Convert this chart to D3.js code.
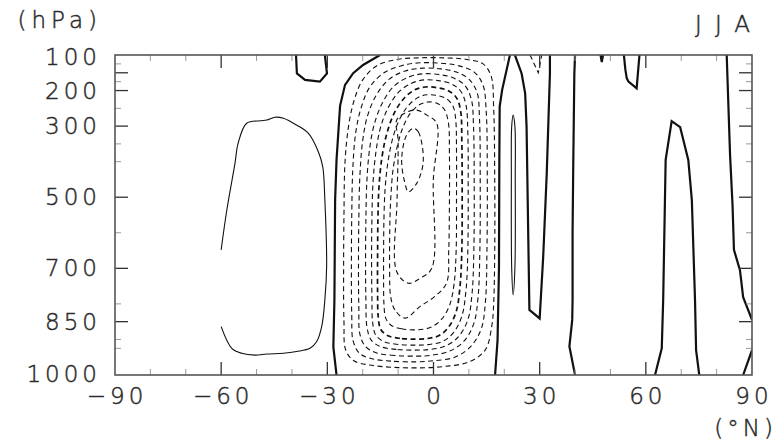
<!DOCTYPE html>
<html>
<head>
<meta charset="UTF-8">
<script src="https://d3js.org/d3.v7.min.js"></script>
<style>
  body { margin: 0; background: #fff; }
  text { font-family: "DejaVu Sans", sans-serif; font-weight: 200; fill: #2a2a2a; stroke: #2a2a2a; stroke-width: 0.45px; }
</style>
</head>
<body>
<div id="chart"></div>
<script>
// axis values
const latLabels = [-90, -60, -30, 0, 30, 60, 90];
const latMajor = [-60, -30, 0, 30, 60];
const latMinor = [-80, -70, -50, -40, -20, -10, 10, 20, 40, 50, 70, 80];
const pLabels = [100, 200, 300, 500, 700, 850, 1000];
const pMajor = [150, 200, 300, 500, 700, 850];
const pMinor = [125, 175, 250, 350, 400, 600, 800, 900, 925];

// contours, [lat, hPa]
// zero lines (thick)
const zeroSH = [[-15.1,100],[-19.9,128],[-22.7,151],[-25.0,184],[-26.4,243],[-27.4,395],[-27.8,508],[-28.0,789],[-28.3,921],[-27.4,1000]];
const zeroTopSH = [[-38.85,100],[-38.6,152],[-36.3,170],[-32.1,175],[-30.1,152],[-30.7,100]];
const zeroN1 = [[17.4,1000],[18.1,902],[18.5,700],[18.6,400],[18.7,245],[19.4,198],[21.6,100]];
const zeroN2 = [[23.0,100],[24.9,152],[25.9,208],[26.3,302],[27.1,817],[30.0,841],[31.0,667],[32.0,433],[32.9,152],[32.9,100]];
const zeroN3 = [[40.0,100],[39.8,152],[39.5,400],[39.3,600],[39.3,789],[39.2,845],[38.4,920],[40.0,1000]];
const zeroN4 = [[47.2,100],[47.55,120],[47.9,100]];
const zeroN5 = [[53.8,100],[54.2,140],[54.6,165],[55.1,175],[57.4,194],[58.2,100]];
const zeroN6 = [[62.6,1000],[64.5,925],[64.9,789],[65.6,395],[67.3,286],[69.7,303],[72.0,395],[73.0,508],[73.9,789],[74.2,930],[75.1,1000]];
const zeroN7 = [[82.85,100],[83.8,381],[84.5,522],[84.9,648],[86.6,705],[87.5,781],[90,845]];
const zeroN8 = [[90,930],[87.5,1000]];

// positive (thin solid)
const posSH = [[-60,648],[-58.4,536],[-56.1,405],[-55.2,348],[-52.8,292],[-49.0,285],[-47.1,283],[-44.8,275],[-42.4,278],[-38.7,297],[-35.4,320],[-32.55,372],[-31.3,414],[-30.7,508],[-30.2,695],[-30.7,789],[-31.6,864],[-33.0,906],[-34.9,925],[-38.7,934],[-42.4,939],[-47.1,941],[-50.4,944],[-54.2,939],[-57.0,925],[-60,864]];
const posN = [[22.5,269],[23.0,300],[23.1,450],[23.0,700],[22.5,775],[22.1,700],[22.0,450],[22.1,300]];

// negative (dashed), Hadley cell outer -> inner
const neg1 = [[-5,980],[-12,978],[-18,972],[-22.5,960],[-24.8,930],[-25.3,850],[-25.4,700],[-25.3,550],[-25.0,400],[-24,300],[-22.5,230],[-20,170],[-16,130],[-10,112],[-4,108],[3,108],[9,112],[14,125],[16.3,160],[17.0,250],[17.3,450],[17.3,650],[17.0,800],[16.5,860],[14.6,930],[10,963],[3,976]];
const neg2 = [[-5,963],[-12,961],[-17,955],[-20.8,940],[-22.7,905],[-23.1,830],[-23.2,700],[-23.1,550],[-22.8,420],[-22,320],[-20.5,250],[-18,190],[-14,150],[-9,130],[-4,122],[2,123],[7,130],[11.5,148],[14,185],[14.9,260],[15.2,450],[15.1,650],[14.7,790],[13.5,870],[10.5,920],[6,950],[0,960]];
const neg3 = [[-5,947],[-11,945],[-16,938],[-19.2,920],[-20.8,885],[-21.1,810],[-21.2,700],[-21.1,560],[-20.8,440],[-20,340],[-18.6,270],[-16,210],[-12.5,168],[-8,145],[-3,137],[2,139],[6.5,148],[10,168],[12.3,205],[13.0,280],[13.2,450],[13.1,650],[12.6,780],[11.4,855],[8.6,905],[4.5,933],[-1,945]];
const neg4 = [[-5,930],[-10.5,928],[-15,920],[-17.6,902],[-18.8,865],[-19.1,790],[-19.2,690],[-19.1,560],[-18.8,450],[-18,360],[-16.6,290],[-14.2,230],[-11,186],[-7,162],[-3,153],[1.5,155],[5.5,164],[8.8,185],[10.7,225],[11.3,300],[11.5,460],[11.4,650],[10.9,770],[9.7,845],[7,893],[3.5,918],[-1,928]];
const neg5 = [[-5,916],[-10,914],[-14,906],[-16.3,888],[-17.2,852],[-17.4,780],[-17.5,680],[-17.4,560],[-17.1,460],[-16.3,375],[-15,305],[-12.8,248],[-9.8,204],[-6.3,180],[-2.7,170],[1.3,172],[5,181],[7.7,202],[9.2,242],[9.7,320],[9.8,470],[9.7,650],[9.2,760],[8,835],[5.7,880],[2.7,905],[-1.2,914]];
const neg6 = [[-5,899],[-9.5,897],[-13,889],[-14.9,872],[-15.6,838],[-15.8,770],[-15.8,670],[-15.7,560],[-15.4,470],[-14.6,390],[-13.3,325],[-11.3,268],[-8.6,225],[-5.5,199],[-2.4,190],[1,192],[4.3,201],[6.6,222],[7.7,260],[8.0,340],[8.1,480],[8.0,650],[7.5,750],[6.4,822],[4.3,865],[1.6,889],[-1.5,897]];
const neg7 = [[-5,873],[-9,870],[-12,860],[-13.5,840],[-14,800],[-14.1,740],[-14.1,650],[-14.0,560],[-13.7,480],[-13,410],[-11.8,345],[-10,290],[-7.6,248],[-4.8,222],[-2,212],[1,214],[3.8,224],[5.6,246],[6.3,285],[6.5,370],[6.5,500],[6.4,650],[5.8,745],[4.5,805],[2.3,843],[-0.8,866]];
const neg8 = [[-8.05,840],[-10.9,817],[-12.1,780],[-12.4,700],[-12.3,560],[-12,490],[-11.4,420],[-10.3,360],[-8.7,305],[-6.6,265],[-4,240],[-1.5,232],[1,236],[3,252],[4.2,290],[4.5,380],[4.5,520],[4.3,650],[3.7,741],[0.4,779],[-3.8,807]];
const neg9 = [[-10.4,283],[-7.1,259],[-4.75,255],[-1.9,269],[0.9,292],[-0.05,452],[-0.5,700],[-3.8,728],[-7.1,742],[-10.4,709],[-10.3,508],[-10.0,339]];
const neg10 = [[-5.7,306],[-4.3,316],[-2.9,400],[-4.75,461],[-7.1,485],[-8.05,461],[-9.0,395],[-7.6,325]];
const negTop = [[27.3,100],[29.6,150],[30.6,100]];

const margin = {top: 55, right: 24, bottom: 70, left: 115},
      width = 776 - margin.left - margin.right,
      height = 445 - margin.top - margin.bottom;

const svg = d3.select("#chart").append("svg")
  .attr("width", 776).attr("height", 445)
  .append("g")
  .attr("transform", `translate(${margin.left},${margin.top})`);

const x = d3.scaleLinear().domain([-90, 90]).range([0, width]);
const y = d3.scaleLinear().domain([100, 1000]).range([0, height]);

svg.append("clipPath").attr("id", "plot")
  .append("rect").attr("width", width).attr("height", height);

const contours = [
  ...[zeroSH, zeroTopSH, zeroN1, zeroN2, zeroN3, zeroN4, zeroN5, zeroN6, zeroN7, zeroN8].map(p => ({p, kind: "zero", closed: false})),
  {p: posSH, kind: "pos", closed: false},
  {p: posN, kind: "pos", closed: true},
  ...[neg1, neg2, neg3, neg4, neg5, neg6, neg7, neg8, neg9, neg10].map((p, i) => ({p, kind: i === 5 ? "negb" : "neg", closed: true})),
  {p: negTop, kind: "neg", closed: false}
];

const g = svg.append("g").attr("clip-path", "url(#plot)");
g.selectAll("path.c")
  .data(contours)
  .enter().append("path")
  .attr("class", "c")
  .attr("d", d => d3.line()
      .x(v => x(v[0])).y(v => y(v[1]))
      .curve(d.closed ? d3.curveCatmullRomClosed.alpha(0.5)
             : (d.kind === "pos" ? d3.curveCatmullRom.alpha(0.5) : d3.curveLinear))(d.p))
  .attr("fill", "none")
  .attr("stroke", "#111")
  .attr("stroke-width", d => d.kind === "zero" ? 2.2 : d.kind === "negb" ? 1.7 : 1.1)
  .attr("stroke-dasharray", d => d.kind.startsWith("neg") ? "5,3.5" : null);

// ticks
const tk = svg.append("g");
function hTicks(vals, len, col, w) {
  vals.forEach(v => {
    tk.append("line").attr("x1", x(v)).attr("x2", x(v)).attr("y1", height).attr("y2", height - len)
      .attr("stroke", col).attr("stroke-width", w);
    tk.append("line").attr("x1", x(v)).attr("x2", x(v)).attr("y1", 0).attr("y2", len)
      .attr("stroke", col).attr("stroke-width", w);
  });
}
function vTicks(vals, len, col, w) {
  vals.forEach(v => {
    tk.append("line").attr("y1", y(v)).attr("y2", y(v)).attr("x1", 0).attr("x2", len)
      .attr("stroke", col).attr("stroke-width", w);
    tk.append("line").attr("y1", y(v)).attr("y2", y(v)).attr("x1", width).attr("x2", width - len)
      .attr("stroke", col).attr("stroke-width", w);
  });
}
hTicks(latMinor, 6, "#999", 1);
hTicks(latMajor, 13, "#333", 1.3);
vTicks(pMinor, 6, "#999", 1);
vTicks(pMajor, 13, "#333", 1.3);

svg.append("rect").attr("width", width).attr("height", height)
  .attr("fill", "none").attr("stroke", "#555").attr("stroke-width", 1.6);

// labels
svg.selectAll(".yl").data(pLabels).enter().append("text")
  .attr("class", "yl")
  .attr("x", -14).attr("y", d => Math.min(Math.max(y(d) + 8, 10), height + 7))
  .attr("text-anchor", "end")
  .style("font-size", "23px").style("letter-spacing", "4px")
  .text(d => d);

svg.selectAll(".xl").data(latLabels).enter().append("text")
  .attr("class", "xl")
  .attr("x", d => x(d) + 2).attr("y", height + 29)
  .attr("text-anchor", "middle")
  .style("font-size", "23px").style("letter-spacing", "4px")
  .text(d => d < 0 ? "\u2212" + Math.abs(d) : d);

svg.append("text").attr("x", -13).attr("y", -27).attr("text-anchor", "end")
  .style("font-size", "23px").style("letter-spacing", "5px").text("(hPa)");
svg.append("text").attr("x", width + 11).attr("y", -23).attr("text-anchor", "end")
  .style("font-size", "23px").style("letter-spacing", "13px").text("JJA");
svg.append("text").attr("x", width + 25).attr("y", height + 61).attr("text-anchor", "end")
  .style("font-size", "23px").style("letter-spacing", "4px").text("(°N)");
</script>
</body>
</html>
